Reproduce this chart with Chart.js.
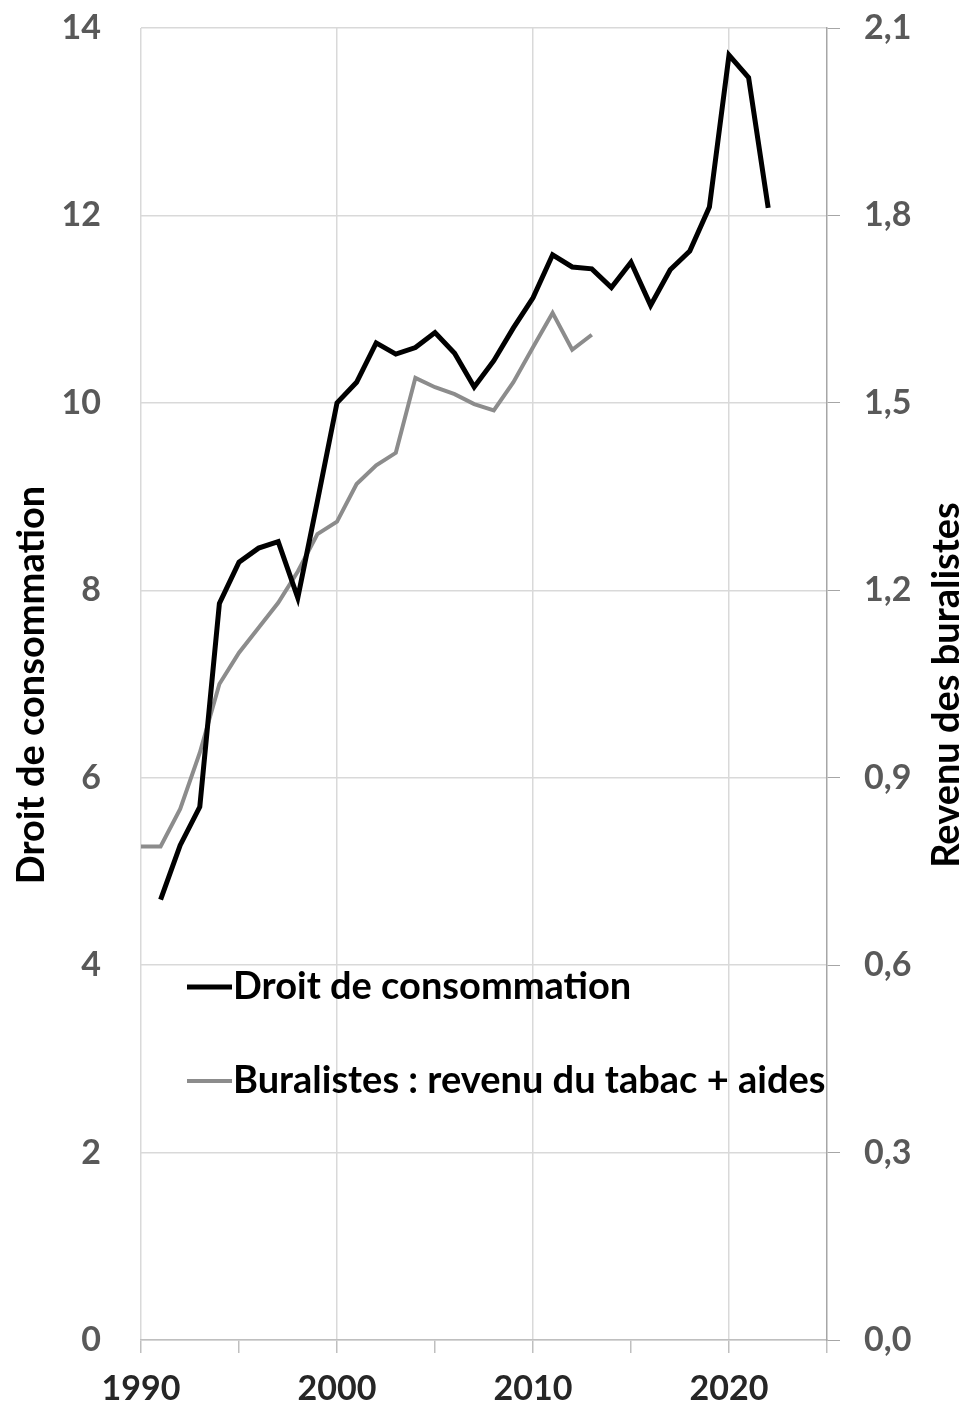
<!DOCTYPE html>
<html>
<head>
<meta charset="utf-8">
<script src="https://cdn.jsdelivr.net/npm/chart.js@4/dist/chart.umd.min.js"></script>
<style>
  html, body { margin: 0; padding: 0; background: #fff; }
  #wrap { width: 967px; height: 1412px; }
</style>
</head>
<body>
<div id="wrap"><canvas id="chart" width="967" height="1412"></canvas></div>
<script>
// années
const years = [1990, 1991, 1992, 1993, 1994, 1995, 1996, 1997, 1998, 1999,
  2000, 2001, 2002, 2003, 2004, 2005, 2006, 2007, 2008, 2009,
  2010, 2011, 2012, 2013, 2014, 2015, 2016, 2017, 2018, 2019,
  2020, 2021, 2022];

// droit de consommation (axe de gauche)
const droit = [null, 4.70, 5.28, 5.69, 7.86, 8.30, 8.45, 8.52, 7.92, 8.95,
  10.00, 10.22, 10.64, 10.52, 10.59, 10.75, 10.53, 10.17, 10.45, 10.80,
  11.12, 11.58, 11.45, 11.43, 11.23, 11.50, 11.04, 11.42, 11.62, 12.09,
  13.71, 13.47, 12.08];

// buralistes : revenu du tabac + aides (axe de droite)
const buralistes = [0.79, 0.79, 0.85, 0.94, 1.05, 1.10, 1.14, 1.18, 1.23, 1.29,
  1.31, 1.37, 1.40, 1.42, 1.54, 1.525, 1.514, 1.498, 1.488, 1.533,
  1.589, 1.644, 1.585, 1.609];

const xTicks = [1990, 1995, 2000, 2005, 2010, 2015, 2020, 2025];
const leftTicks = [0, 2, 4, 6, 8, 10, 12, 14];
const rightTicks = [0, 0.3, 0.6, 0.9, 1.2, 1.5, 1.8, 2.1];

const FONT = 'Lato, "Open Sans", sans-serif';

function points(vals) {
  return vals.map((v, i) => ({ x: years[i], y: v }));
}

// pas de marge automatique : la zone de tracé est fixée à la main
function noPad(s) {
  s.paddingTop = 0;
  s.paddingBottom = 0;
}

// titres d'axes et légende dessinés à la main
const decor = {
  id: 'decor',
  afterDraw(chart) {
    const c = chart.ctx;
    c.save();
    c.font = 'bold 38px ' + FONT;
    c.fillStyle = '#000';
    c.textAlign = 'center';
    c.textBaseline = 'middle';

    c.save();
    c.translate(32, 685);
    c.rotate(-Math.PI / 2);
    c.fillText('Droit de consommation', 0, 0);
    c.restore();

    c.save();
    c.translate(947, 685);
    c.rotate(-Math.PI / 2);
    c.fillText('Revenu des buralistes', 0, 0);
    c.restore();

    // légende
    const items = [
      { text: 'Droit de consommation', color: '#000', y: 987, w: 5 },
      { text: 'Buralistes : revenu du tabac + aides', color: '#8c8c8c', y: 1081, w: 4 }
    ];
    c.textAlign = 'left';
    items.forEach(it => {
      c.strokeStyle = it.color;
      c.lineWidth = it.w;
      c.beginPath();
      c.moveTo(187, it.y);
      c.lineTo(232, it.y);
      c.stroke();
      c.fillStyle = '#000';
      c.fillText(it.text, 233, it.y);
    });
    c.restore();
  }
};

const ctx = document.getElementById('chart').getContext('2d');
new Chart(ctx, {
  type: 'line',
  data: {
    datasets: [
      {
        label: 'Droit de consommation',
        data: points(droit),
        borderColor: '#000',
        borderWidth: 5,
        pointRadius: 0,
        yAxisID: 'y'
      },
      {
        label: 'Buralistes : revenu du tabac + aides',
        data: points(buralistes),
        borderColor: '#8c8c8c',
        borderWidth: 4,
        pointRadius: 0,
        yAxisID: 'y2'
      }
    ]
  },
  options: {
    responsive: false,
    animation: false,
    layout: { padding: { top: 28, left: 0, right: 0, bottom: 0 } },
    plugins: { legend: { display: false }, tooltip: { enabled: false } },
    scales: {
      x: {
        type: 'linear',
        min: 1990,
        max: 2025,
        afterBuildTicks: s => { s.ticks = xTicks.map(v => ({ value: v })); },
        afterFit: s => { s.height = 72; s.paddingLeft = 0; s.paddingRight = 0; },
        grid: {
          color: c => (c.tick && c.tick.value % 10 === 0 && c.tick.value < 2025) ? '#d9d9d9' : 'rgba(0,0,0,0)',
          tickColor: '#bfbfbf',
          tickLength: 13,
          lineWidth: 1.5
        },
        border: { display: true, color: '#bfbfbf', width: 1.5 },
        ticks: {
          autoSkip: false,
          maxRotation: 0,
          padding: 16,
          color: '#262626',
          font: { family: FONT, size: 34, weight: 'bold' },
          callback: v => (v % 10 === 0 ? String(v) : '')
        }
      },
      y: {
        position: 'left',
        min: 0,
        max: 14,
        afterBuildTicks: s => { s.ticks = leftTicks.map(v => ({ value: v })); },
        afterFit: s => { s.width = 141; noPad(s); },
        grid: { color: '#d9d9d9', lineWidth: 1.5, drawTicks: false },
        border: { display: false },
        ticks: {
          padding: 40,
          color: '#595959',
          font: { family: FONT, size: 34, weight: 'bold' }
        }
      },
      y2: {
        position: 'right',
        min: 0,
        max: 2.1,
        afterBuildTicks: s => { s.ticks = rightTicks.map(v => ({ value: v })); },
        afterFit: s => { s.width = 140; noPad(s); },
        grid: { drawOnChartArea: false, drawTicks: true, tickLength: 13, tickColor: '#a6a6a6' },
        border: { display: true, color: '#a6a6a6', width: 1.5 },
        ticks: {
          padding: 24,
          color: '#595959',
          font: { family: FONT, size: 34, weight: 'bold' },
          callback: v => v.toFixed(1).replace('.', ',')
        }
      }
    }
  },
  plugins: [decor]
});
</script>
</body>
</html>
